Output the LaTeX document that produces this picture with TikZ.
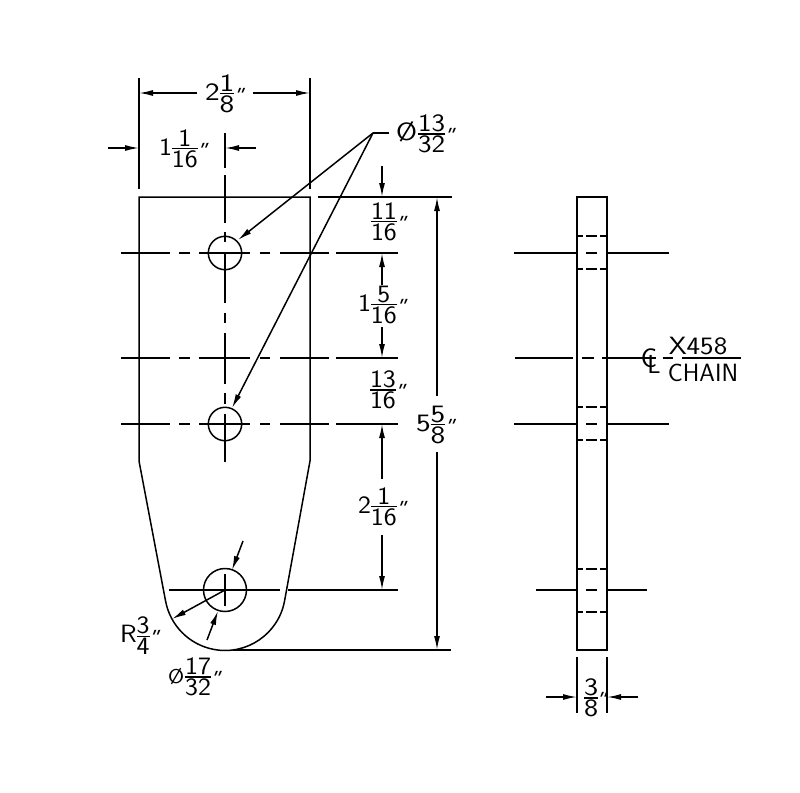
\documentclass[tikz,border=0pt]{standalone}
\usepackage{fontspec}
\usetikzlibrary{arrows.meta}
\newfontfamily\inchfont[FakeSlant=0.4]{Liberation Sans}
\newcommand\frc[2]{$\vcenter{\offinterlineskip\halign{\hfil##\hfil\cr #1\cr\noalign{\vskip 1.5pt\hrule height 1.3pt\vskip 1.5pt}#2\cr}}$}
\newcommand\inchmark{\hspace{-2pt}\raisebox{-3pt}{\inchfont\fontsize{22}{22}\selectfont "}}
\newcommand\widen[1]{\scalebox{1.1}[1]{#1}}
\newcommand\widenmore[1]{\scalebox{1.25}[1]{#1}}
\tikzset{
  ln/.style={line width=1.5pt,black},
  dimarrow/.style={ln,-{Latex[length=14pt,width=6pt]}},
  lbl/.style={inner sep=0pt,outer sep=0pt,anchor=west,font=\sffamily\fontsize{25}{25}\selectfont},
  chain/.style={inner sep=0pt,outer sep=0pt,font=\sffamily\fontsize{25}{25}\selectfont}
}
\begin{document}
\begin{tikzpicture}[x=1pt,y=1pt,yscale=-1]
\fill[white] (0,0) rectangle (800,792);
\useasboundingbox (0,0) rectangle (800,792);

% front view outline
\draw[ln] (139,197) -- (310,197) -- (310,461) -- (284.5,601.2) arc (10.7:169.3:60.5) -- (139,461) -- cycle;
\draw[ln] (318,197) -- (452,197);
\draw[ln,line width=1.8pt] (233,650.3) -- (451,650.3);

% holes
\draw[ln] (225,253) circle (16.7);
\draw[ln] (225,424) circle (16.7);
\draw[ln] (225,590) circle (21.5);

% centre lines
\foreach \yy in {253,358,424}{
  \draw[ln] (121,\yy) -- (170,\yy) (179,\yy) -- (190,\yy) (199,\yy) -- (250,\yy)
            (260,\yy) -- (270,\yy) (280,\yy) -- (329,\yy) (336,\yy) -- (398,\yy);
}
\draw[ln] (225,133) -- (225,168) (225,175) -- (225,223) (225,232) -- (225,242)
          (225,252) -- (225,303) (225,313) -- (225,323) (225,333) -- (225,384)
          (225,393) -- (225,404) (225,414) -- (225,462);
\draw[ln] (169,590) -- (280,590) (288,590) -- (398,590) (225,574) -- (225,606);

% extension lines
\draw[ln] (139,78) -- (139,189) (310,78) -- (310,189);

% 2 1/8
\draw[dimarrow] (197,93) -- (139,93);
\draw[dimarrow] (253,93) -- (310,93);
\node[lbl] (w) at (205,94) {\widenmore{2\frc{1}{8}}\inchmark};

% 1 1/16
\draw[dimarrow] (108,148) -- (139,148);
\draw[dimarrow] (256,148) -- (225,148);
\node[lbl] (hc) at (159,149) {\widen{1\frc{1}{16}}\inchmark};

% diameter 13/32
\coordinate (lead) at (373,133);
\draw[ln] (389,133) -- (lead);
\draw[dimarrow] (lead) -- (238,240);
\draw[dimarrow] (lead) -- (232,408);
\node[lbl] (dia) at (396,134) {\scalebox{1.15}[1]{Ø\hspace{1pt}\frc{13}{32}}\inchmark};

% stacked dims
\draw[dimarrow] (382,166) -- (382,197);
\node[lbl] (a) at (371,222) {\widen{\frc{11}{16}}\inchmark};
\draw[dimarrow] (382,285) -- (382,253);
\draw[dimarrow] (382,327) -- (382,358);
\node[lbl] (b) at (358,305) {\widen{1\frc{5}{16}}\inchmark};
\node[lbl] (c) at (370,390) {\widen{\frc{13}{16}}\inchmark};
\draw[dimarrow] (382,479) -- (382,424);
\draw[dimarrow] (382,535) -- (382,590);
\node[lbl] (d) at (358,507) {\widen{2\frc{1}{16}}\inchmark};

% overall
\draw[dimarrow] (437,396) -- (437,197);
\draw[dimarrow] (437,452) -- (437,650);
\node[lbl] (h) at (416,425) {\widenmore{5\frc{5}{8}}\inchmark};

% lower hole dims
\draw[dimarrow] (225,590) -- (172,619);
\draw[dimarrow] (243,541) -- (232,570);
\draw[dimarrow] (207,640) -- (218,611);
\node[lbl] (r) at (120,636) {\widen{R\frc{3}{4}}\inchmark};
\node[lbl] (dd) at (168,677) {\widen{{\fontsize{20}{20}\selectfont Ø}\hspace{1pt}\frc{17}{32}}\inchmark};

% side view
\draw[ln] (577,197) rectangle (607,650);
\foreach \yy in {236,269,407,440,569,612}{
  \draw[ln] (577,\yy) -- (583,\yy) (586,\yy) -- (597,\yy) (600,\yy) -- (607,\yy);
}
\foreach \yy in {253,424}{
  \draw[ln] (514,\yy) -- (577,\yy) (586,\yy) -- (597,\yy) (607,\yy) -- (669,\yy);
}
\draw[ln] (536,590) -- (577,590) (586,590) -- (597,590) (607,590) -- (647,590);
\draw[ln] (515,358) -- (573,358) (582,358) -- (594,358) (602,358) -- (656,358);
\draw[ln] (663,358) -- (673,358) (682,358) -- (741,358);

% thickness dim
\draw[ln] (577,657) -- (577,713) (607,657) -- (607,713);
\draw[dimarrow] (546,697) -- (577,697);
\draw[dimarrow] (638,697) -- (607,697);
\node[lbl] (t) at (584,698) {\scalebox{1.2}[1]{\frc{3}{8}}\hspace{-1pt}\inchmark};

% chain label
\node[chain,font=\sffamily\fontsize{27}{27}\selectfont] (cc) at (649,358) {C};
\node[chain,font=\sffamily\fontsize{26}{26}\selectfont] (cl) at (654,364) {L};
\node[chain] (x) at (698,346) {\scalebox{1.15}[1]{X458}};
\node[chain] (ch) at (703,373) {CHAIN};
\end{tikzpicture}
\end{document}
